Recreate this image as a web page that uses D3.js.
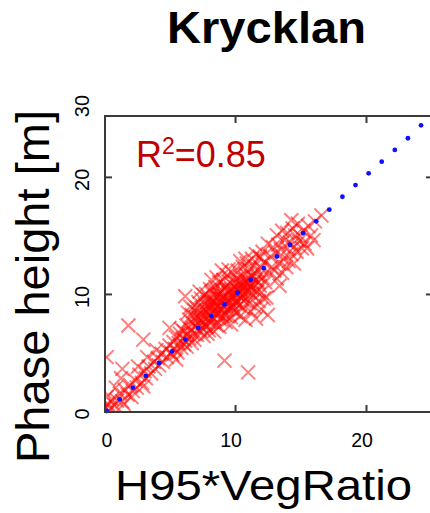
<!DOCTYPE html>
<html><head><meta charset="utf-8">
<script src="https://cdn.jsdelivr.net/npm/d3@7"></script>
<style>html,body{margin:0;padding:0;background:#fff;}svg{display:block;font-family:"Liberation Sans",Arial,sans-serif;}</style>
</head><body>
<script>
// ---- data ----
const titleText = "Krycklan";
const xLabel = "H95*VegRatio";
const yLabel = "Phase height [m]";
const r2Value = "0.85";
const xTicks = [0, 10, 20];
const yTicks = [0, 10, 20, 30];
const fitX = [0.2,1.2,2.2,3.2,4.2,5.2,6.2,7.2,8.2,9.2,10.2,11.2,12.2,13.2,14.2,15.2,16.2,17.2,18.2,19.2,20.2,21.2,22.2,23.2,24.2];
const fitY = [0.0,1.0,2.0,3.0,4.1,5.1,6.1,7.1,8.1,9.1,10.1,11.2,12.2,13.2,14.2,15.2,16.2,17.2,18.3,19.3,20.3,21.3,22.3,23.3,24.4];
const obsX = [
0.1,0.3,0.5,0.6,0.8,1.0,0.2,1.2,1.4,1.6,1.8,2.0,2.2,2.4,2.5,2.7,2.9,3.1,3.2,3.4,3.6,3.8,3.9,4.1,4.2,4.4,4.5,4.7,4.8,5.0,5.1,0.9,1.3,2.6,3.3,4.0,1.5,2.1,3.0,0.0,0.4,
1.86,3.0,0.2,1.4,5.0,
5.2,5.3,5.4,5.5,5.6,5.7,5.8,5.9,6.0,5.5,5.9,6.1,
6.1,6.2,6.3,6.3,6.4,6.5,6.5,6.6,6.7,6.7,6.8,6.8,6.9,6.9,7.0,6.2,6.4,6.6,
7.0,7.1,7.1,7.2,7.2,7.3,7.3,7.4,7.4,7.5,7.5,7.6,7.6,7.7,7.7,7.8,7.8,7.9,7.9,8.0,8.0,7.3,7.6,7.9,
8.0,8.1,8.1,8.2,8.2,8.3,8.3,8.4,8.4,8.5,8.5,8.6,8.6,8.7,8.7,8.8,8.8,8.9,8.9,9.0,8.2,8.6,8.4,8.8,
9.0,9.1,9.1,9.2,9.2,9.3,9.3,9.4,9.4,9.5,9.5,9.6,9.6,9.7,9.7,9.8,9.8,9.9,9.9,10.0,9.2,9.5,9.0,9.7,
10.0,10.1,10.1,10.2,10.2,10.3,10.3,10.4,10.4,10.5,10.5,10.6,10.6,10.7,10.7,10.8,10.8,10.9,10.9,11.0,11.0,10.4,10.8,
11.0,11.1,11.1,11.2,11.2,11.3,11.3,11.4,11.4,11.5,11.5,11.6,11.6,11.7,11.7,11.8,11.8,11.9,11.9,12.0,11.6,
12.0,12.1,12.1,12.2,12.2,12.3,12.5,12.0,12.4,12.6,12.7,12.8,12.9,12.5,11.9,
13.0,13.1,13.2,13.3,13.4,13.5,13.6,13.6,13.7,13.8,13.9,14.0,13.2,13.4,
14.0,14.1,14.2,14.3,14.4,14.5,14.5,14.6,14.7,14.8,14.9,15.0,14.3,
15.1,15.2,15.3,15.5,15.6,16.0,16.1,16.6,15.8,
8.1,8.3,8.5,8.7,8.9,9.1,9.3,9.5,9.7,9.9,10.1,10.3,10.5,10.7,10.9,11.1,8.2,8.6,9.0,9.4,9.8,10.2,10.6,11.0,8.4,8.8,9.2,9.6,10.0,10.4,10.8,11.2,7.5,7.8,8.0,7.2,7.6,9.3,10.0,10.6,11.3,11.8
];
const obsY = [
0.3,0.6,0.2,1.0,0.5,0.9,1.2,1.5,0.8,1.8,1.4,2.2,1.7,2.6,2.0,3.1,2.4,3.4,2.8,3.8,3.2,4.2,3.6,4.5,3.9,4.9,4.2,5.3,4.6,5.6,5.0,2.0,2.8,3.8,4.6,5.2,0.6,1.2,2.1,0.1,0.0,
7.3,6.1,4.6,3.6,7.1,
4.8,5.9,5.3,6.3,5.0,5.8,6.6,5.4,6.2,4.4,7.0,5.7,
6.8,6.0,7.3,5.5,6.6,7.8,6.2,7.0,5.8,8.2,6.6,7.5,8.6,6.1,7.2,9.8,8.4,8.9,
8.0,6.5,8.8,7.5,9.3,6.9,8.3,7.8,9.6,7.1,8.6,6.4,8.1,9.1,7.4,8.5,10.0,7.9,9.3,6.9,8.7,10.2,9.9,6.6,
9.6,8.2,10.4,7.6,9.1,8.6,10.0,7.9,9.4,8.8,10.6,7.3,9.8,8.4,10.2,9.0,11.0,7.8,9.6,8.6,11.2,11.4,6.8,7.2,
10.3,9.0,11.2,8.2,9.8,10.6,7.6,9.3,11.6,8.7,10.1,9.5,11.0,8.0,10.4,9.1,11.8,9.8,8.5,10.6,4.3,12.1,12.0,7.4,
9.3,11.3,8.4,10.0,12.0,9.0,10.8,8.1,11.5,9.6,10.3,12.3,8.8,10.9,9.4,11.7,7.8,10.2,12.6,9.8,3.3,12.8,13.0,
11.1,9.2,12.1,10.6,8.5,11.6,13.0,9.9,10.9,12.4,8.9,11.2,13.4,10.2,12.0,9.4,11.5,13.1,10.7,12.2,7.9,
10.1,11.4,13.6,9.6,12.7,11.0,8.2,8.7,9.7,11.8,13.2,12.3,14.0,14.3,13.2,
12.0,13.5,11.3,14.2,12.6,13.8,11.8,15.4,13.0,14.6,12.3,13.9,15.0,10.7,
15.2,12.8,14.4,13.4,15.6,14.0,12.6,15.0,13.6,16.0,14.5,14.9,16.3,
13.9,15.4,14.3,13.9,15.8,14.6,16.2,16.7,15.0,
8.9,9.3,9.1,8.9,9.2,9.6,9.1,9.4,9.7,10.1,10.4,10.2,10.7,10.5,10.9,10.8,8.0,8.3,8.1,8.6,8.9,9.3,9.8,10.4,10.3,10.0,10.5,10.3,11.0,11.0,11.2,11.5,7.6,7.2,7.6,8.0,8.7,8.2,9.6,10.0,10.4,11.0
];

// ---- layout ----
const W = 430, H = 513;
const svg = d3.select("body").append("svg").attr("width", W).attr("height", H);
const x = d3.scaleLinear().domain([0, 25]).range([104, 431.5]);
const y = d3.scaleLinear().domain([0, 25.2]).range([411, 116]);
const boxL = 105, boxR = 433, boxT = 116, boxB = 412;

svg.append("defs").append("clipPath").attr("id", "clip")
  .append("rect").attr("x", boxL).attr("y", boxT).attr("width", boxR - boxL).attr("height", boxB - boxT);

const pts = obsX.map((v, i) => [v, obsY[i]]);
const plot = svg.append("g").attr("clip-path", "url(#clip)");
const s = 7;
plot.selectAll("path.obs").data(pts).enter().append("path")
  .attr("class", "obs")
  .attr("d", d => {
    const cx = x(d[0]), cy = y(d[1]);
    return `M${cx - s},${cy - s}L${cx + s},${cy + s}M${cx - s},${cy + s}L${cx + s},${cy - s}`;
  })
  .attr("stroke", "#ff0000").attr("stroke-opacity", 0.5).attr("stroke-width", 2).attr("fill", "none");

const fit = fitX.map((v, i) => [v, fitY[i]]);
svg.selectAll("circle.fit").data(fit).enter().append("circle")
  .attr("class", "fit")
  .attr("cx", d => x(d[0])).attr("cy", d => y(d[1])).attr("r", 2.4)
  .attr("fill", "#1010ff");

// frame
svg.append("rect").attr("x", boxL).attr("y", boxT).attr("width", boxR - boxL).attr("height", boxB - boxT)
  .attr("fill", "none").attr("stroke", "#3a3a3a").attr("stroke-width", 2);

// inside ticks via axes
const tickLen = 7;
const xInner = xTicks.filter(t => t > 0);
const gB = svg.append("g").attr("transform", `translate(0,${boxB})`)
  .call(d3.axisTop(x).tickValues(xInner).tickSize(tickLen).tickFormat(""));
const gT = svg.append("g").attr("transform", `translate(0,${boxT})`)
  .call(d3.axisBottom(x).tickValues(xInner).tickSize(tickLen).tickFormat(""));
const yVisible = yTicks.filter(t => t > 0 && t < 25);
const gL = svg.append("g").attr("transform", `translate(${boxL},0)`)
  .call(d3.axisRight(y).tickValues(yVisible).tickSize(tickLen).tickFormat(""));
const gR = svg.append("g").attr("transform", `translate(${boxR},0)`)
  .call(d3.axisLeft(y).tickValues(yVisible).tickSize(tickLen).tickFormat(""));
[gB, gT, gL, gR].forEach(g => {
  g.select(".domain").remove();
  g.selectAll(".tick line").attr("stroke", "#3a3a3a").attr("stroke-width", 2);
});

// tick labels
svg.selectAll("text.xt").data(xTicks).enter().append("text")
  .attr("class", "xt")
  .attr("x", d => x(d) + (d === 0 ? 3 : -4)).attr("y", 447)
  .attr("text-anchor", "middle").attr("font-size", 19.5).attr("fill", "#000")
  .text(d => d);
svg.selectAll("text.yt").data(yTicks).enter().append("text")
  .attr("class", "yt")
  .attr("transform", d => `translate(89,${Math.max(y(d) + 3, 106)}) rotate(-90)`)
  .attr("text-anchor", "middle").attr("font-size", 20).attr("fill", "#000")
  .text(d => d);

// R2 annotation
const r2 = svg.append("text").attr("x", 136).attr("y", 167).attr("font-size", 36).attr("fill", "#c00000");
r2.append("tspan").text("R");
r2.append("tspan").attr("font-size", 23).attr("dy", -13).text("2");
r2.append("tspan").attr("dy", 13).text("=" + r2Value);

// titles
svg.append("text").attr("x", 266.5).attr("y", 43).attr("text-anchor", "middle")
  .attr("font-size", 45).attr("font-weight", "bold").attr("fill", "#000")
  .attr("textLength", 199).attr("lengthAdjust", "spacingAndGlyphs")
  .text(titleText);
svg.append("text").attr("x", 263.5).attr("y", 500).attr("text-anchor", "middle")
  .attr("font-size", 42).attr("fill", "#000")
  .attr("textLength", 297).attr("lengthAdjust", "spacingAndGlyphs")
  .text(xLabel);
svg.append("text").attr("transform", "translate(49,286.5) rotate(-90)").attr("text-anchor", "middle")
  .attr("font-size", 47).attr("fill", "#000")
  .attr("textLength", 353).attr("lengthAdjust", "spacingAndGlyphs")
  .text(yLabel);
</script>
</body></html>
